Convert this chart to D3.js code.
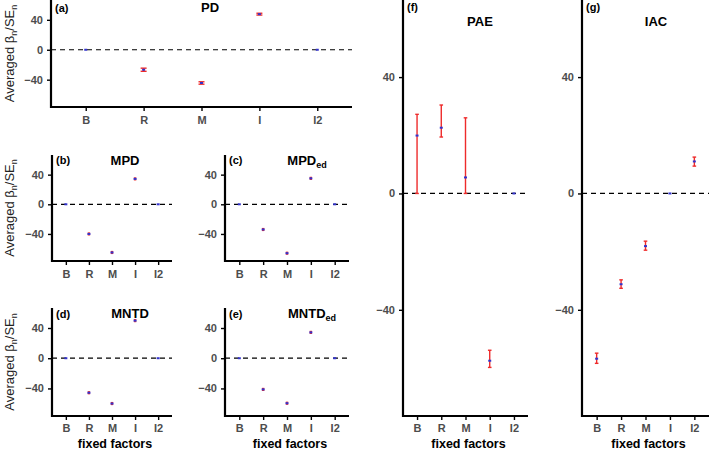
<!DOCTYPE html>
<html><head><meta charset="utf-8">
<script src="https://cdn.jsdelivr.net/npm/d3@7"></script>
<style>
body{margin:0;background:#fff;}
text{font-family:Arial,"Liberation Sans",Helvetica,sans-serif;}
</style></head>
<body><svg id="chart" width="709" height="450"></svg>
<script>
// ---- data ----
const categories = ["B","R","M","I","I2"];
const yTicks = [-40, 0, 40];
const yDomain = [-76.5, 66.5];

const pdMean   = [0, -26.7, -44.4, 47.6, 0];
const pdLow    = [0, -28.8, -46.0, 46.4, 0];
const pdHigh   = [0, -24.6, -42.8, 48.8, 0];

const mpdMean  = [0, -40.0, -65.0, 34.3, 0];
const mpdLow   = [0, -41.2, -66.2, 33.1, 0];
const mpdHigh  = [0, -38.8, -63.8, 35.5, 0];

const mpdEdMean = [0, -34.0, -66.0, 35.0, 0];
const mpdEdLow  = [0, -35.2, -67.2, 33.8, 0];
const mpdEdHigh = [0, -32.8, -64.8, 36.2, 0];

const mntdMean = [0, -45.7, -60.0, 49.8, 0];
const mntdLow  = [0, -46.9, -61.2, 48.6, 0];
const mntdHigh = [0, -44.5, -58.8, 51.0, 0];

const mntdEdMean = [0, -41.3, -59.6, 34.2, 0];
const mntdEdLow  = [0, -42.5, -60.8, 33.0, 0];
const mntdEdHigh = [0, -40.1, -58.4, 35.4, 0];

const paeMean  = [19.9, 22.6, 5.5, -57.5, 0];
const paeLow   = [0, 19.4, 0, -59.8, 0];
const paeHigh  = [27.2, 30.4, 26.0, -53.9, 0];

const iacMean  = [-56.8, -31.2, -18.1, 0, 11.0];
const iacLow   = [-58.4, -32.6, -19.5, 0, 9.4];
const iacHigh  = [-54.9, -29.7, -16.4, 0, 12.5];

// ---- layout ----
const panels = [
  {tag:"(a)", title:"PD", sub:"", mean:pdMean, lo:pdLow, hi:pdHigh,
   x0:51, x1:352, y0:0, y1:107, pad:0.6, titleX:210, titleY:12, tagY:12, ylab:true, xlab:false, cap:3},
  {tag:"(b)", title:"MPD", sub:"", mean:mpdMean, lo:mpdLow, hi:mpdHigh,
   x0:52, x1:172, y0:155, y1:261, pad:0.6, titleX:125, titleY:165, tagY:164, ylab:true, xlab:false, cap:1.2},
  {tag:"(c)", title:"MPD", sub:"ed", mean:mpdEdMean, lo:mpdEdLow, hi:mpdEdHigh,
   x0:225, x1:349, y0:155, y1:261, pad:0.6, titleX:307, titleY:165, tagY:164, ylab:false, xlab:false, cap:1.2},
  {tag:"(d)", title:"MNTD", sub:"", mean:mntdMean, lo:mntdLow, hi:mntdHigh,
   x0:52, x1:172, y0:308, y1:416, pad:0.6, titleX:130, titleY:318, tagY:318, ylab:true, xlab:true, cap:1.2},
  {tag:"(e)", title:"MNTD", sub:"ed", mean:mntdEdMean, lo:mntdEdLow, hi:mntdEdHigh,
   x0:225, x1:349, y0:308, y1:416, pad:0.6, titleX:312, titleY:318, tagY:318, ylab:false, xlab:true, cap:1.2},
  {tag:"(f)", title:"PAE", sub:"", mean:paeMean, lo:paeLow, hi:paeHigh,
   x0:403, x1:528, y0:0, y1:416, pad:0.58, titleX:480, titleY:26, tagY:11, ylab:false, xlab:true, cap:1.8},
  {tag:"(g)", title:"IAC", sub:"", mean:iacMean, lo:iacLow, hi:iacHigh,
   x0:582, x1:709, y0:0, y1:416, pad:0.6, titleX:656, titleY:26, tagY:11, ylab:false, xlab:true, cap:1.8}
];

const svg = d3.select("#chart");
const red = "#ee2b2b", blue = "#3333cc";

panels.forEach(p => {
  const x = d3.scalePoint().domain(categories).range([p.x0, p.x1]).padding(p.pad);
  const y = d3.scaleLinear().domain(yDomain).range([p.y1, p.y0]);
  const g = svg.append("g");

  g.append("line").attr("x1", p.x0).attr("x2", p.x1).attr("y1", y(0)).attr("y2", y(0))
    .attr("stroke", "#000").attr("stroke-width", 1.2).attr("stroke-dasharray", "5,4");

  const ya = d3.axisLeft(y).tickValues(yTicks).tickSize(4).tickPadding(4)
    .tickFormat(d => d < 0 ? "\u2212" + Math.abs(d) : String(d));
  const yg = g.append("g").attr("transform", `translate(${p.x0},0)`).call(ya);
  yg.select(".domain").remove();
  yg.selectAll(".tick line").attr("stroke", "#000").attr("stroke-width", 1.4);
  yg.selectAll(".tick text").attr("font-size", 11).attr("font-weight", "bold").attr("fill", "#4d4d4d")
    .attr("font-family", "Arial, Liberation Sans, sans-serif");

  const xa = d3.axisBottom(x).tickSize(4).tickPadding(p.xlab ? 4 : 5);
  const xg = g.append("g").attr("transform", `translate(0,${p.y1})`).call(xa);
  xg.select(".domain").remove();
  xg.selectAll(".tick line").attr("stroke", "#000").attr("stroke-width", 1.4);
  xg.selectAll(".tick text").attr("font-size", 11).attr("font-weight", "bold").attr("fill", "#4d4d4d")
    .attr("font-family", "Arial, Liberation Sans, sans-serif");

  g.append("path").attr("d", `M${p.x0},${p.y0}V${p.y1}H${p.x1}`)
    .attr("fill", "none").attr("stroke", "#000").attr("stroke-width", 2.2);

  const data = categories.map((c, i) => ({c, m: p.mean[i], lo: p.lo[i], hi: p.hi[i]}));
  const eb = g.selectAll(".eb").data(data).enter().append("g");
  eb.filter(d => d.hi !== d.lo).append("line")
    .attr("x1", d => x(d.c)).attr("x2", d => x(d.c))
    .attr("y1", d => y(d.lo)).attr("y2", d => y(d.hi))
    .attr("stroke", red).attr("stroke-width", 1.4);
  eb.filter(d => d.hi !== d.lo).each(function(d) {
    const s = d3.select(this);
    [d.lo, d.hi].forEach(v => {
      s.append("line").attr("x1", x(d.c) - p.cap).attr("x2", x(d.c) + p.cap)
        .attr("y1", y(v)).attr("y2", y(v)).attr("stroke", red).attr("stroke-width", 1.4);
    });
  });
  eb.append("rect").attr("x", d => x(d.c) - 1.5).attr("y", d => y(d.m) - 1)
    .attr("width", 3).attr("height", 2).attr("fill", blue);

  const t = g.append("text").attr("x", p.titleX).attr("y", p.titleY).attr("text-anchor", "middle")
    .attr("font-size", 13).attr("font-weight", "bold").attr("fill", "#000");
  t.append("tspan").text(p.title);
  if (p.sub) t.append("tspan").attr("font-size", 9).attr("dy", 3).text(p.sub);

  g.append("text").attr("x", p.x0 + 4).attr("y", p.tagY).attr("font-size", 11).attr("font-weight", "bold")
    .attr("fill", "#000").text(p.tag);

  if (p.ylab) {
    const cy = (p.y0 + p.y1) / 2;
    const yl = g.append("text").attr("transform", `translate(14,${cy}) rotate(-90)`)
      .attr("text-anchor", "middle").attr("font-size", 13).attr("fill", "#222");
    yl.append("tspan").text("Averaged \u03b2");
    yl.append("tspan").attr("font-size", 9).attr("dy", 3).text("n");
    yl.append("tspan").attr("dy", -3).text("/SE");
    yl.append("tspan").attr("font-size", 9).attr("dy", 3).text("n");
  }
  if (p.xlab) {
    g.append("text").attr("x", (p.x0 + p.x1) / 2 + 3).attr("y", 447.5).attr("text-anchor", "middle")
      .attr("font-size", 12.5).attr("font-weight", "bold").attr("fill", "#000").text("fixed factors");
  }
});
</script></body></html>
